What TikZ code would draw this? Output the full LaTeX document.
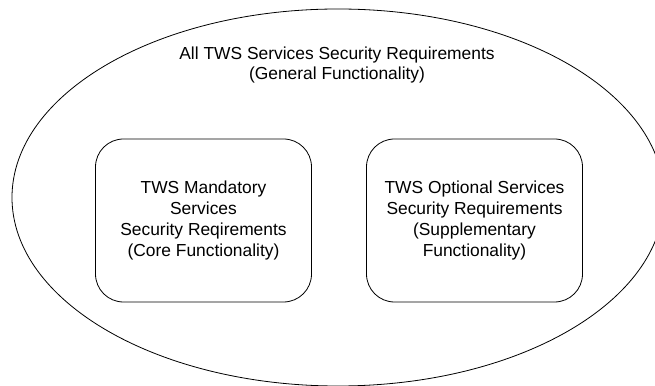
\documentclass[tikz,border=0pt]{standalone}
\usepackage{fontspec}
\setmainfont{Liberation Sans}
\usetikzlibrary{positioning,shapes.geometric}
\tikzstyle{reqtext}=[
  font={\fontsize{17.4}{20.7}\selectfont},
  align=center,
]
\tikzstyle{reqbox}=[
  draw=black,
  line width=.8pt,
  rectangle,
  rounded corners=28pt,
  inner sep=0pt,
  outer sep=0pt,
  minimum width=216pt,
  minimum height=163pt,
]
\tikzstyle{reqset}=[
  draw=black,
  line width=.8pt,
  ellipse,
  inner sep=0pt,
  outer sep=0pt,
  minimum width=652pt,
  minimum height=377pt,
]
\tikzset{
  x=1pt, y=1pt,
  node distance=55pt,
}
\begin{document}
\begin{tikzpicture}
  \useasboundingbox (0,0) rectangle (655,385);
  \node (alltws) [reqset] at (338,187.5) {};
  \node (general) [reqtext] at (337,320)
    {All TWS Services Security Requirements\\(General Functionality)};
  %%
  \node (mandatory) [reqbox, reqtext] at (203.5,164.5)
    {TWS Mandatory\\Services\\Security Reqirements\\(Core Functionality)};
  \node (optional) [reqbox, reqtext, right=of mandatory]
    {TWS Optional Services\\Security Requirements\\(Supplementary\\Functionality)};
\end{tikzpicture}
\end{document}
